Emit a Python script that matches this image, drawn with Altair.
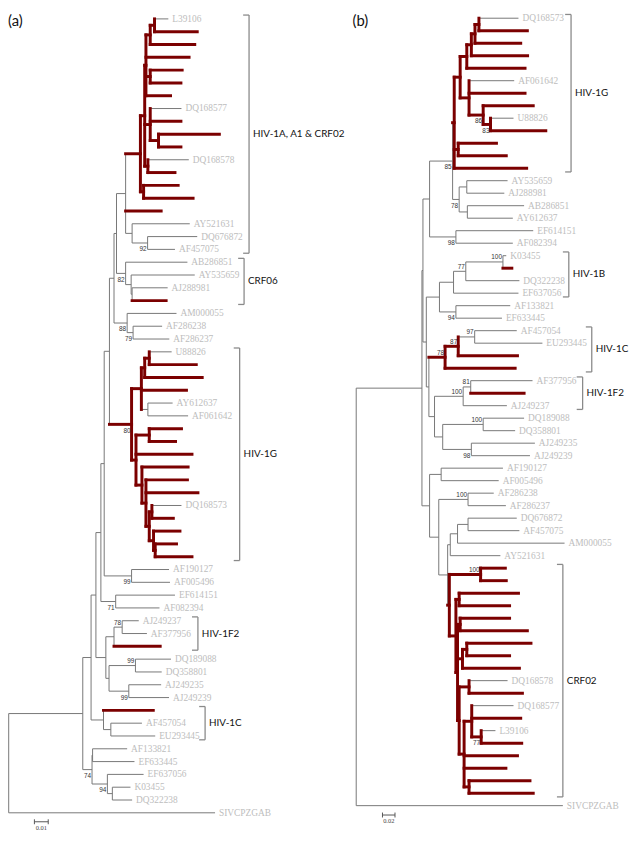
import altair as alt
import pandas as pd

# ============================ DATA : panel (a) ============================
# internal nodes (depth = distance from root, substitutions/site)
A_NODE_ID = ["root", "n78", "n86", "n91", "n96", "n100", "n105", "n110", "n112", "n121",
             "A0", "A1", "A2", "B1", "B2", "B3", "A3", "B4", "A4", "A14",
             "n128a", "n144", "nC6", "n127", "n128b", "n123", "n129",
             "G0", "n137", "n141", "n145", "n144b", "n132", "n145b", "n138", "n142", "n145c", "n148", "n150", "n151",
             "n127c", "n111", "n101", "n110b", "n118", "n105b", "n131", "n125", "n99", "n106", "n87", "n88", "n103", "n108"]
A_NODE_PARENT = [None, "root", "n78", "n86", "n91", "n96", "n100", "n105", "n110", "n112",
                 "n121", "A0", "A1", "A2", "B1", "A2", "A1", "A3", "A1", "A0",
                 "n121", "n128a", "n112", "nC6", "n127", "n110", "n123",
                 "n105", "G0", "n137", "n141", "n137", "G0", "n132", "n132", "n138", "n142", "n145c", "n145c", "n150",
                 "n100", "n96", "n91", "n101", "n110b", "n101", "n105b", "n105b", "n86", "n99", "n78", "n87", "n87", "n103"]
A_NODE_DEPTH = [0.0, 0.0536, 0.0596, 0.0631, 0.0667, 0.0691, 0.0729, 0.0762, 0.0780, 0.0846,
                0.0953, 0.0984, 0.0993, 0.1024, 0.1055, 0.1024, 0.1024, 0.1084, 0.1007, 0.0976,
                0.0893, 0.1005, 0.0846, 0.0886, 0.0893, 0.0857, 0.0900,
                0.0889, 0.0960, 0.0984, 0.1017, 0.1007, 0.0921, 0.1017, 0.0964, 0.0993, 0.1017, 0.1036, 0.1048, 0.1060,
                0.0889, 0.0774, 0.0703, 0.0762, 0.0821, 0.0726, 0.0917, 0.0869, 0.0686, 0.0739, 0.0603, 0.0607, 0.0714, 0.0750]
A_NODE_RED = [0, 0, 0, 0, 0, 0, 0, 0, 0, 0,
              1, 1, 1, 1, 1, 1, 1, 1, 1, 1,
              0, 0, 0, 0, 0, 0, 0,
              1, 1, 1, 1, 0, 1, 1, 1, 1, 1, 1, 1, 1,
              0, 0, 0, 0, 0, 0, 0, 0, 0, 0, 0, 0, 0, 0]
# leaves, top to bottom ("" = highlighted sequence without label)
A_LEAF_NAME = ["L39106", "", "", "", "", "", "", "DQ168577", "", "", "", "DQ168578", "", "", "", "",
               "AY521631", "DQ676872", "AF457075", "AB286851", "AY535659", "AJ288981", "", "AM000055",
               "AF286238", "AF286237", "U88826", "", "", "", "AY612637", "AF061642",
               "", "", "", "", "", "", "DQ168573", "", "", "", "",
               "AF190127", "AF005496", "EF614151", "AF082394", "AJ249237", "AF377956", "",
               "DQ189088", "DQ358801", "AJ249235", "AJ249239", "", "AF457054", "EU293445",
               "AF133821", "EF633445", "EF637056", "K03455", "DQ322238", "SIVCPZGAB"]
A_LEAF_PARENT = ["B2", "B2", "B1", "A2", "B3", "B3", "A2", "A3", "A3", "B4", "B4", "A4", "A4", "A14", "A14", "n121",
                 "n128a", "n144", "n144", "nC6", "n127", "n128b", "n128b", "n123",
                 "n129", "n129", "n145", "n145", "n141", "n137", "n144b", "n144b",
                 "n145b", "n145b", "n132", "n138", "n142", "n142", "n148", "n148", "n150", "n151", "n151",
                 "n127c", "n127c", "n111", "n111", "n118", "n118", "n110b",
                 "n131", "n131", "n125", "n125", "n99", "n106", "n106",
                 "n88", "n88", "n103", "n108", "n108", "root"]
A_LEAF_DEPTH = [0.1155, 0.1364, 0.1346, 0.1305, 0.1255, 0.1246, 0.1171, 0.1250, 0.1246, 0.1524, 0.1246, 0.1303,
                0.1203, 0.1226, 0.1334, 0.1103, 0.1310, 0.1364, 0.1203, 0.1293, 0.1346, 0.1150, 0.1139, 0.1214,
                0.1110, 0.1162, 0.1179, 0.1357, 0.1400, 0.1286, 0.1186, 0.1298, 0.1250, 0.1207, 0.1326, 0.1298,
                0.1293, 0.1369, 0.1250, 0.1191, 0.1239, 0.1214, 0.1326, 0.1160, 0.1167, 0.1203, 0.1091, 0.0941,
                0.1000, 0.1096, 0.1174, 0.1107, 0.1103, 0.1160, 0.1046, 0.0964, 0.1060, 0.0857, 0.0910, 0.0976,
                0.0881, 0.0893, 0.1493]
A_BOOT_NODE = ["n144", "nC6", "n123", "n129", "G0", "n127c", "n111", "n118", "n131", "n125", "n87", "n103"]
A_BOOT_VALUE = [92, 82, 88, 79, 80, 99, 71, 78, 99, 99, 74, 94]
A_BOOT_SIDE = ["below", "below", "below", "below", "below", "below", "below", "above", "above", "below", "below", "below"]
A_CLADE_LABEL = ["HIV-1A, A1 & CRF02", "CRF06", "HIV-1G", "HIV-1F2", "HIV-1C"]
A_CLADE_FIRST = [0, 19, 26, 47, 54]
A_CLADE_LAST = [18, 22, 42, 49, 56]
A_CLADE_DEPTH = [0.1739, 0.1703, 0.1671, 0.1369, 0.1421]
A_SCALE_LEN = 0.01
A_SCALE_START = 0.0186

# ============================ DATA : panel (b) ============================
B_NODE_ID = ["root", "Qr", "Q1", "P1", "n85", "N0", "N1", "n472", "n477", "n481", "n485", "N2", "n489", "n496",
             "n464", "n465", "n472b", "n473", "n461", "M", "n445", "nB", "n471", "n509", "n94", "Mb", "n78", "n87",
             "n97", "n440", "nF2", "n81", "n448", "n489b", "n477b", "L", "n446", "K", "n474", "n453", "n456",
             "n463", "n474b", "C0", "c100", "c95", "c105a", "c100b", "c108", "c115", "c128", "c105", "c135",
             "c120", "c143", "c172", "c135b"]
B_NODE_PARENT = [None, "root", "Qr", "Q1", "P1", "n85", "N0", "N1", "n472", "n477", "n481", "N1", "N2", "n489",
                 "N0", "n85", "n465", "n465", "P1", "Q1", "M", "n445", "nB", "n471", "n445", "M", "Mb", "n78",
                 "n87", "Mb", "n440", "nF2", "n440", "n448", "n448", "Qr", "L", "L", "K", "K", "n453",
                 "n456", "n463", "n453", "C0", "C0", "c95", "c95", "c100b", "c100b", "c115", "c100b", "c105",
                 "c105", "c120", "c143", "c120"]
B_NODE_DEPTH = [0.0, 0.1051, 0.1067, 0.1173, 0.1541, 0.1567, 0.1662, 0.1768, 0.1841, 0.1899, 0.1962, 0.1804,
                0.2030, 0.2147, 0.1631, 0.1646, 0.1768, 0.1777, 0.1594, 0.1121, 0.1331, 0.1556, 0.1752, 0.2346,
                0.1594, 0.1162, 0.1421, 0.1631, 0.1894, 0.1252, 0.1710, 0.1831, 0.1383, 0.2030, 0.1841, 0.1173,
                0.1358, 0.1320, 0.1788, 0.1462, 0.1504, 0.1620, 0.1788, 0.1489, 0.1989, 0.1594, 0.1646, 0.1620,
                0.1662, 0.1699, 0.1768, 0.1646, 0.1804, 0.1725, 0.1847, 0.1998, 0.1804]
B_NODE_RED = [0, 0, 0, 0, 0, 1, 1, 1, 1, 1, 1, 1, 1, 1,
              1, 0, 0, 0, 0, 0, 0, 0, 0, 0, 0, 0, 1, 1,
              0, 0, 0, 0, 0, 0, 0, 0, 0, 0, 0, 0, 0,
              0, 0, 1, 1, 1, 1, 1, 1, 1, 1, 1, 1,
              1, 1, 1, 1]
B_LEAF_NAME = ["DQ168573", "", "", "", "", "AF061642", "", "", "U88826", "", "", "", "",
               "AY535659", "AJ288981", "AB286851", "AY612637", "EF614151", "AF082394", "K03455", "", "DQ322238",
               "EF637056", "AF133821", "EF633445", "AF457054", "EU293445", "", "", "AF377956", "", "AJ249237",
               "DQ189088", "DQ358801", "AJ249235", "AJ249239", "AF190127", "AF005496", "AF286238", "AF286237",
               "DQ676872", "AF457075", "AM000055", "AY521631", "", "", "", "", "", "", "", "", "",
               "DQ168578", "", "DQ168577", "", "L39106", "", "", "", "", "", "SIVCPZGAB"]
B_LEAF_PARENT = ["n485", "n485", "n481", "n477", "n472", "N2", "N2", "n489", "n496", "n496", "n464", "n464", "N0",
                 "n472b", "n472b", "n473", "n473", "n461", "n461", "n509", "n509", "n471", "nB", "n94", "n94",
                 "n97", "n97", "n87", "n78", "n81", "n81", "nF2", "n489b", "n489b", "n477b", "n477b", "n446",
                 "n446", "n474", "n474", "n474b", "n474b", "n463", "n456", "c100", "c100", "c105a", "c105a",
                 "c108", "c108", "c128", "c128", "c115", "c135", "c135", "c143", "c143", "c172", "c172", "c120",
                 "c120", "c135b", "c135b", "root"]
B_LEAF_DEPTH = [0.2594, 0.2736, 0.2630, 0.2740, 0.2699, 0.2526, 0.2699, 0.2830, 0.2515, 0.3031,
                0.2242, 0.2399, 0.2725, 0.2420, 0.2368, 0.2684, 0.2504, 0.2830, 0.2504, 0.2399,
                0.2488, 0.2609, 0.2594, 0.2463, 0.2330, 0.2567, 0.2977, 0.2578, 0.2541, 0.2819,
                0.2684, 0.2409, 0.2684, 0.2541, 0.2857, 0.2778, 0.2346, 0.2278, 0.2199, 0.2393,
                0.2567, 0.2609, 0.3331, 0.2305, 0.2384, 0.2399, 0.2594, 0.2452, 0.2452, 0.2736,
                0.2794, 0.2452, 0.2609, 0.2420, 0.2657, 0.2515, 0.2630, 0.2226, 0.2646, 0.2578,
                0.2393, 0.2778, 0.2830, 0.3304]
B_BOOT_NODE = ["n85", "n489", "n496", "n465", "n461", "n471", "n509", "n94", "n78", "n87", "n97", "nF2", "n81",
               "n489b", "n477b", "n474", "c100", "c172"]
B_BOOT_VALUE = [85, 86, 83, 78, 98, 77, 100, 94, 78, 87, 97, 100, 81, 100, 98, 100, 100, 77]
B_BOOT_SIDE = ["below", "below", "below", "below", "below", "above", "above", "below", "above", "above", "above",
               "above", "above", "above", "below", "above", "above", "below"]
B_CLADE_LABEL = ["HIV-1G", "HIV-1B", "HIV-1C", "HIV-1F2", "CRF02"]
B_CLADE_FIRST = [0, 19, 25, 29, 44]
B_CLADE_LAST = [12, 22, 28, 31, 62]
B_CLADE_DEPTH = [0.3435, 0.3399, 0.3766, 0.3620, 0.3304]
B_SCALE_LEN = 0.02
B_SCALE_START = 0.0420

# ============================ STYLE / LAYOUT ============================
RED = "#7b0000"
GREY = "#777777"
LABEL_GREY = "#bdbdbd"
BRACKET_GREY = "#8a8a8a"
H = 827
TICK_PX = 6


def layout(node_id, node_parent, node_depth, node_red, leaf_name, leaf_parent, leaf_depth):
    depth, parent, red, children, ypos = {}, {}, {}, {}, {}
    for n, p, d, r in zip(node_id, node_parent, node_depth, node_red):
        depth[n], parent[n], red[n] = d, p, r
        children.setdefault(n, [])
        if p is not None:
            children.setdefault(p, []).append(n)
    for i, (nm, p, d) in enumerate(zip(leaf_name, leaf_parent, leaf_depth)):
        k = "_leaf%d" % i
        depth[k], parent[k], red[k] = d, p, (1 if nm == "" else 0)
        ypos[k] = float(i)
        children[p].append(k)

    def gy(n):
        if n not in ypos:
            ys = [gy(c) for c in children[n]]
            ypos[n] = (min(ys) + max(ys)) / 2.0
        return ypos[n]

    for n in node_id:
        gy(n)
    segs = []
    for n in depth:
        p = parent[n]
        if p is not None:
            segs.append({"x": depth[p], "x2": depth[n], "y": ypos[n], "y2": ypos[n], "red": red[n]})
        if children.get(n):
            ys = [ypos[c] for c in children[n]]
            segs.append({"x": depth[n], "x2": depth[n], "y": min(ys), "y2": max(ys), "red": red[n]})
    leaves = pd.DataFrame({"x": leaf_depth, "y": [float(i) for i in range(len(leaf_name))], "name": leaf_name})
    leaves = leaves[leaves["name"] != ""]
    return pd.DataFrame(segs), leaves, depth, ypos


def panel(title, title_x, nodes, leaves_in, boots, clades, scale, px_per_unit, x0, width, row0, step, scale_row):
    segs, leaves, depth, ypos = layout(*nodes, *leaves_in)
    xs = alt.Scale(domain=[-x0 / px_per_unit, (width - x0) / px_per_unit], nice=False, zero=False)
    ys = alt.Scale(domain=[-row0 / step, (H - row0) / step], nice=False, zero=False, reverse=True)

    def X(f):
        return alt.X(f, type="quantitative", scale=xs, axis=None)

    def Y(f):
        return alt.Y(f, type="quantitative", scale=ys, axis=None)

    grey = alt.Chart(segs[segs["red"] == 0]).mark_rule(color=GREY, strokeWidth=1).encode(
        x=X("x"), x2="x2:Q", y=Y("y"), y2="y2:Q")
    red = alt.Chart(segs[segs["red"] == 1]).mark_rule(color=RED, strokeWidth=3, strokeCap="square").encode(
        x=X("x"), x2="x2:Q", y=Y("y"), y2="y2:Q")
    labels = alt.Chart(leaves).mark_text(align="left", baseline="middle", dx=4, font="Liberation Serif",
                                         fontSize=9.5, color=LABEL_GREY).encode(x=X("x"), y=Y("y"), text="name:N")

    bnode, bval, bside = boots
    bdf = pd.DataFrame({"x": [depth[n] for n in bnode], "y": [ypos[n] for n in bnode],
                        "v": [str(v) for v in bval], "side": bside})
    boot_layers = []
    for side, dy in (("below", 6.5), ("above", -4.5)):
        sub = bdf[bdf["side"] == side]
        if len(sub):
            boot_layers.append(alt.Chart(sub).mark_text(align="right", baseline="middle", dx=-1, dy=dy,
                                                        font="Liberation Sans", fontSize=6.5, color="#333333")
                               .encode(x=X("x"), y=Y("y"), text="v:N"))

    clab, cfirst, clast, cdepth = clades
    cdf = pd.DataFrame({"label": clab, "x": cdepth,
                        "xt": [d - TICK_PX / px_per_unit for d in cdepth],
                        "y": [f - 0.3 for f in cfirst], "y2": [l + 0.3 for l in clast],
                        "ym": [(f + l) / 2.0 for f, l in zip(cfirst, clast)]})
    br_v = alt.Chart(cdf).mark_rule(color=BRACKET_GREY, strokeWidth=1.3).encode(x=X("x"), y=Y("y"), y2="y2:Q")
    br_t = alt.Chart(cdf).mark_rule(color=BRACKET_GREY, strokeWidth=1.3).encode(x=X("xt"), x2="x:Q", y=Y("y"))
    br_b = alt.Chart(cdf).mark_rule(color=BRACKET_GREY, strokeWidth=1.3).encode(x=X("xt"), x2="x:Q", y=Y("y2"))
    br_l = alt.Chart(cdf).mark_text(align="left", baseline="middle", dx=4, font="Lato", fontSize=10,
                                    color="#111111").encode(x=X("x"), y=Y("ym"), text="label:N")

    slen, sstart = scale
    sdf = pd.DataFrame({"x": [sstart], "x2": [sstart + slen], "xm": [sstart + slen / 2.0], "y": [scale_row],
                        "ya": [scale_row - 2.5 / step], "yb": [scale_row + 2.5 / step], "t": ["%g" % slen]})
    sc = alt.Chart(sdf).mark_rule(color="#555555", strokeWidth=1).encode(x=X("x"), x2="x2:Q", y=Y("y"))
    sc1 = alt.Chart(sdf).mark_rule(color="#555555", strokeWidth=1).encode(x=X("x"), y=Y("ya"), y2="yb:Q")
    sc2 = alt.Chart(sdf).mark_rule(color="#555555", strokeWidth=1).encode(x=X("x2"), y=Y("ya"), y2="yb:Q")
    sct = alt.Chart(sdf).mark_text(align="center", baseline="middle", dy=6, font="Liberation Serif", fontSize=6.5,
                                   color="#444444").encode(x=X("xm"), y=Y("y"), text="t:N")

    ttl = alt.Chart(pd.DataFrame({"t": [title]})).mark_text(align="left", baseline="top", font="Lato",
                                                              fontSize=15, color="#111111").encode(
        x=alt.value(title_x), y=alt.value(1), text="t:N")

    return alt.layer(grey, red, labels, *boot_layers, br_v, br_t, br_b, br_l, sc, sc1, sc2, sct, ttl).properties(
        width=width, height=H)


pa = panel("(a)", 0,
           (A_NODE_ID, A_NODE_PARENT, A_NODE_DEPTH, A_NODE_RED),
           (A_LEAF_NAME, A_LEAF_PARENT, A_LEAF_DEPTH),
           (A_BOOT_NODE, A_BOOT_VALUE, A_BOOT_SIDE),
           (A_CLADE_LABEL, A_CLADE_FIRST, A_CLADE_LAST, A_CLADE_DEPTH),
           (A_SCALE_LEN, A_SCALE_START),
           px_per_unit=1400.0, x0=0.7, width=312, row0=5.7, step=12.97, scale_row=62.7)
pb = panel("(b)", 37,
           (B_NODE_ID, B_NODE_PARENT, B_NODE_DEPTH, B_NODE_RED),
           (B_LEAF_NAME, B_LEAF_PARENT, B_LEAF_DEPTH),
           (B_BOOT_NODE, B_BOOT_VALUE, B_BOOT_SIDE),
           (B_CLADE_LABEL, B_CLADE_FIRST, B_CLADE_LAST, B_CLADE_DEPTH),
           (B_SCALE_LEN, B_SCALE_START),
           px_per_unit=633.5, x0=40.7, width=317, row0=5.0, step=12.66, scale_row=63.75)

chart = alt.hconcat(pa, pb, spacing=0, bounds="flush").properties(
    padding={"left": 0, "top": 0, "right": 0, "bottom": 0}
).configure(padding={"left": 0, "top": 0, "right": 0, "bottom": 0}).configure_view(stroke=None)
chart.save("out.html", embed_options={"renderer": "svg", "actions": False})
